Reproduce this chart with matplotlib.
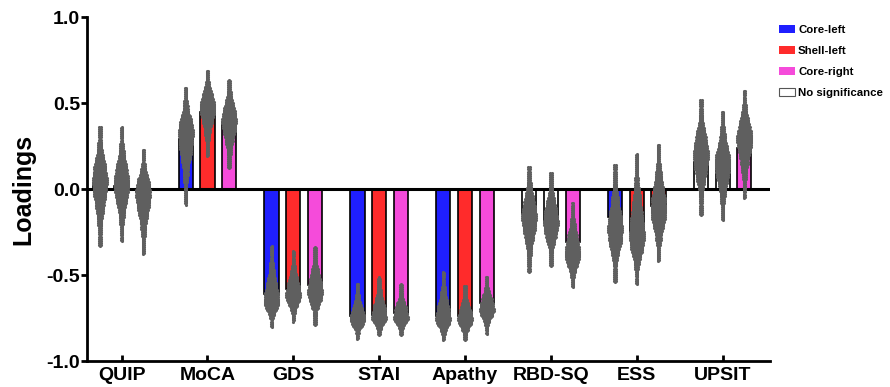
import numpy as np
import matplotlib.pyplot as plt
from matplotlib.patches import Patch

plt.rcParams['font.family'] = ['Liberation Sans', 'DejaVu Sans']
plt.rcParams['font.weight'] = 'bold'

categories = ['QUIP', 'MoCA', 'GDS', 'STAI', 'Apathy', 'RBD-SQ', 'ESS', 'UPSIT']
series = ['Core-left', 'Shell-left', 'Core-right']

# mean loadings (bar heights), one list per region
core_left = [0.03, 0.29, -0.61, -0.74, -0.74, -0.145, -0.16, 0.16]
shell_left = [0.02, 0.45, -0.58, -0.73, -0.74, -0.19, -0.25, 0.16]
core_right = [-0.02, 0.39, -0.56, -0.72, -0.66, -0.31, -0.10, 0.24]

# fill key per bar: 'b' blue, 'r' red, 'p' pink, 'n' no significance
fill_left = ['n', 'b', 'b', 'b', 'b', 'n', 'b', 'n']
fill_shell = ['n', 'r', 'r', 'r', 'r', 'n', 'r', 'n']
fill_right = ['n', 'p', 'p', 'p', 'p', 'p', 'r', 'p']

# bootstrap swarm summaries: lowest, densest, highest
swarm_lo_left = [-0.33, -0.09, -0.80, -0.87, -0.88, -0.48, -0.54, -0.15]
swarm_mid_left = [0.05, 0.33, -0.66, -0.76, -0.76, -0.16, -0.24, 0.20]
swarm_hi_left = [0.36, 0.59, -0.33, -0.55, -0.48, 0.13, 0.14, 0.52]

swarm_lo_shell = [-0.30, 0.19, -0.77, -0.85, -0.88, -0.45, -0.55, -0.18]
swarm_mid_shell = [0.03, 0.48, -0.62, -0.75, -0.76, -0.20, -0.28, 0.15]
swarm_hi_shell = [0.36, 0.69, -0.36, -0.51, -0.56, 0.10, 0.21, 0.45]

swarm_lo_right = [-0.38, 0.12, -0.79, -0.85, -0.84, -0.57, -0.42, -0.05]
swarm_mid_right = [-0.02, 0.40, -0.60, -0.75, -0.70, -0.38, -0.12, 0.30]
swarm_hi_right = [0.23, 0.64, -0.33, -0.55, -0.51, -0.08, 0.26, 0.57]

colors = {'b': '#1f1fff', 'r': '#ff2b2b', 'p': '#f54bda', 'n': 'white'}
dot_color = '#5f5f5f'

fig = plt.figure(figsize=(8.9, 3.87), dpi=100)
ax = fig.add_axes([0.098, 0.067, 0.767, 0.889])

x = np.arange(len(categories))
offset = 0.253
width = 0.165


def draw_swarm(xc, lo, mid, hi, half=0.074):
    # rows of dots, widest at the densest value and thinning to the tails
    xs, ys = [], []
    dy = 0.006
    dx = 0.016
    for j, y in enumerate(np.arange(lo, hi + 1e-9, dy)):
        if y >= mid:
            t = (y - mid) / max(hi - mid, 1e-6)
        else:
            t = (mid - y) / max(mid - lo, 1e-6)
        t = min(max(t, 0.0), 1.0)
        w = half * np.exp(-(2.1 * t) ** 2)
        if j % 2 == 0:
            n = int(round(w / dx))
            pos = [k * dx for k in range(-n, n + 1)]
        else:
            n = int(round(w / dx - 0.5))
            pos = [(k + 0.5) * dx for k in range(-n - 1, n + 1)] if n >= 0 else [0.0]
        for p in pos:
            xs.append(xc + p)
            ys.append(y)
    ax.scatter(xs, ys, s=5, color=dot_color, linewidths=0, zorder=4)


groups = [
    (core_left, fill_left, swarm_lo_left, swarm_mid_left, swarm_hi_left, -offset),
    (shell_left, fill_shell, swarm_lo_shell, swarm_mid_shell, swarm_hi_shell, 0.0),
    (core_right, fill_right, swarm_lo_right, swarm_mid_right, swarm_hi_right, offset),
]

for vals, fills, lo, mid, hi, off in groups:
    ax.bar(x + off, vals, width=width, color=[colors[f] for f in fills],
           edgecolor='black', linewidth=1.2, zorder=2)
    for i in range(len(categories)):
        draw_swarm(x[i] + off, lo[i], mid[i], hi[i])

ax.axhline(0, color='black', linewidth=2.2, zorder=3)

ax.set_xlim(-0.4, len(categories) - 0.45)
ax.set_ylim(-1.0, 1.0)
ax.set_yticks([-1.0, -0.5, 0.0, 0.5, 1.0])
ax.set_yticklabels(['-1.0', '-0.5', '0.0', '0.5', '1.0'], fontsize=14, fontweight='bold')
ax.set_xticks(x)
ax.set_xticklabels(categories, fontsize=14, fontweight='bold')
ax.tick_params(axis='y', width=2, length=4, direction='out', pad=1)
ax.tick_params(axis='x', width=2, length=4, direction='in', pad=4)
ax.set_ylabel('Loadings', fontsize=18, fontweight='bold', labelpad=8)

for side in ['top', 'right']:
    ax.spines[side].set_visible(False)
for side in ['left', 'bottom']:
    ax.spines[side].set_linewidth(2)

handles = [Patch(facecolor=colors['b'], edgecolor='none'),
           Patch(facecolor=colors['r'], edgecolor='none'),
           Patch(facecolor=colors['p'], edgecolor='none'),
           Patch(facecolor='white', edgecolor='#555555', linewidth=0.8)]
labels = series + ['No significance']
fig.legend(handles, labels, loc='upper left', bbox_to_anchor=(0.866, 0.955),
           frameon=False, fontsize=8.2, handlelength=1.4, handleheight=0.7,
           handletextpad=0.3, labelspacing=0.95, borderpad=0.2)

fig.savefig('out.png', dpi=100)
